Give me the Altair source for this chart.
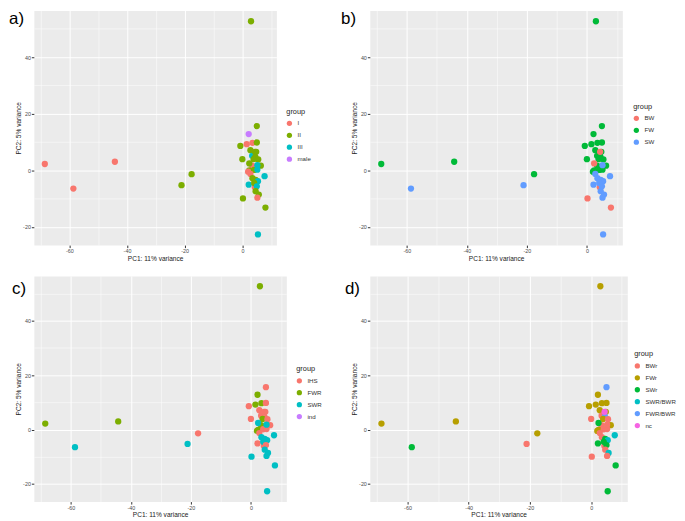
import altair as alt
import pandas as pd

# PCA scores (same samples in every panel)
pc1 = [3.0, 5.0, 2.2, -0.7, 1.5, 3.5, 5.0, 2.8, 4.8, 3.4, 4.5, 0.0, 3.9, 5.5, 6.4, 3.4, 2.4, 2.0,
       4.1, 5.2, -68.5, -44.2, -17.6, 2.4, 4.4, 0.2, 8.0, 4.3, 5.2, 7.7, 2.8, 2.2, 3.5, 4.6, 5.4,
       4.1, 5.0, 4.6, 5.7, 5.2, 5.4, -58.6, -21.1]
pc2 = [52.7, 15.6, 12.8, 8.6, 9.2, 9.7, 9.8, 7.1, 6.5, 5.1, 4.7, 3.9, 3.9, 3.8, 1.6, 1.6, -0.1, -0.5,
       0.1, 0.2, 2.2, 3.0, -1.4, 2.4, 6.5, -10.0, -13.2, -6.0, 1.8, -2.1, -1.3, -5.1, -2.8, -3.4, -3.9,
       -4.5, -5.7, -7.4, -8.6, -9.7, -22.7, -6.5, -5.3]

group_a = ["II", "II", "male", "II", "I", "I", "II", "II", "II", "III", "II", "II", "II", "II", "II", "I", "II", "I",
           "II", "III", "I", "I", "II", "II", "II", "II", "II", "I", "III", "III", "I", "III", "II", "II", "III",
           "II", "III", "II", "II", "I", "III", "I", "II"]
group_b = ["FW"] * 23 + ["BW"] * 5 + ["SW"] * 15
group_c = ["FWR", "IHS", "FWR", "IHS", "FWR", "FWR", "IHS", "IHS", "IHS", "IHS", "IHS", "IHS", "FWR", "IHS", "IHS", "FWR", "FWR", "FWR",
           "IHS", "IHS", "FWR", "FWR", "IHS", "SWR", "IHS", "SWR", "SWR", "IHS", "SWR", "SWR", "IHS", "IHS", "SWR", "SWR", "SWR",
           "SWR", "IHS", "SWR", "SWR", "SWR", "SWR", "SWR", "SWR"]
group_d = ["FWr", "FWR/BWR", "FWr", "FWr", "FWr", "FWr", "FWr", "FWr", "FWr", "BWr", "FWR/BWR", "BWr", "FWr", "BWr", "FWr", "BWr", "FWr", "FWr",
           "BWr", "BWr", "FWr", "FWr", "FWr", "SWr", "nc", "BWr", "SWr", "BWr", "BWr", "SWR/BWR", "BWr", "SWr", "BWr", "SWr", "SWR/BWR",
           "SWr", "SWr", "BWr", "SWR/BWR", "BWr", "SWr", "SWr", "BWr"]

dom_a = ["I", "II", "III", "male"]
dom_b = ["BW", "FW", "SW"]
dom_c = ["IHS", "FWR", "SWR", "ind"]
dom_d = ["BWr", "FWr", "SWr", "SWR/BWR", "FWR/BWR", "nc"]

pal3 = ["#F8766D", "#00BA38", "#619CFF"]
pal4 = ["#F8766D", "#7CAE00", "#00BFC4", "#C77CFF"]
pal6 = ["#F8766D", "#B79F00", "#00BA38", "#00BFC4", "#619CFF", "#F564E3"]

x_vals = [-70, -60, -50, -40, -30, -20, -10, 0, 10]
y_vals = [-20, -10, 0, 10, 20, 30, 40, 50]

FONT = "Liberation Sans"
MAJOR = "datum.value % 20 === 0"


def make_axis(vals, title):
    return alt.Axis(
        values=vals,
        title=title,
        labelExpr="datum.value % 20 === 0 ? '' + datum.value : ''",
        gridWidth={"condition": {"test": MAJOR, "value": 1.0}, "value": 0.5},
        tickOpacity={"condition": {"test": MAJOR, "value": 1}, "value": 0},
    )


def panel(groups, domain, colors, label, w, h, lx, ly, tx, ty):
    df = pd.DataFrame({"PC1": pc1, "PC2": pc2, "group": groups})
    pts = alt.Chart(df).mark_circle(size=40, opacity=1).encode(
        x=alt.X("PC1:Q", scale=alt.Scale(domain=[-72.3, 11.8], nice=False, zero=False),
                axis=make_axis(x_vals, "PC1: 11% variance")),
        y=alt.Y("PC2:Q", scale=alt.Scale(domain=[-26.5, 56.5], nice=False, zero=False),
                axis=make_axis(y_vals, "PC2: 5% variance")),
        color=alt.Color("group:N", scale=alt.Scale(domain=domain, range=colors),
                        legend=alt.Legend(orient="none", legendX=lx, legendY=ly, title="group")),
    )
    lab = alt.Chart(pd.DataFrame({"t": [label]})).mark_text(
        align="left", baseline="top", fontSize=17, font=FONT, color="black"
    ).encode(x=alt.value(tx), y=alt.value(ty), text="t:N")
    return alt.layer(pts, lab).properties(width=w, height=h)


a = panel(group_a, dom_a, pal4, "a)", 244, 236, 254, 98, -25, 1)
b = panel(group_b, dom_b, pal3, "b)", 254, 236, 265, 93, -29, 1)
c = panel(group_c, dom_c, pal4, "c)", 254, 227, 264, 90, -22, 5)
d = panel(group_d, dom_d, pal6, "d)", 259, 227, 266, 75, -25, 5)

row1 = alt.hconcat(a, b, spacing=28).resolve_scale(color="independent")
row2 = alt.hconcat(c, d, spacing=21).resolve_scale(color="independent")

chart = alt.vconcat(row1, row2, spacing=12).resolve_scale(color="independent").properties(
    padding={"left": 0, "top": 0, "right": 0, "bottom": 0}
).configure_view(
    fill="#EBEBEB", stroke="transparent"
).configure_axis(
    labelFont=FONT, titleFont=FONT, labelFontSize=5.4, titleFontSize=6.6,
    labelColor="#4D4D4D", titleColor="#222222", titleFontWeight="normal",
    gridColor="white", domain=False, tickColor="#333333", tickSize=2.5,
    labelPadding=1, titlePadding=1.5,
).configure_legend(
    titleFont=FONT, labelFont=FONT, titleFontSize=7.4, labelFontSize=6.2,
    titleFontWeight="normal", titleColor="#222222", labelColor="#333333",
    symbolType="circle", symbolSize=28, symbolStrokeWidth=0, rowPadding=5, titlePadding=5,
    labelOffset=5,
)

chart.save("out.html", embed_options={"renderer": "svg", "actions": False})
